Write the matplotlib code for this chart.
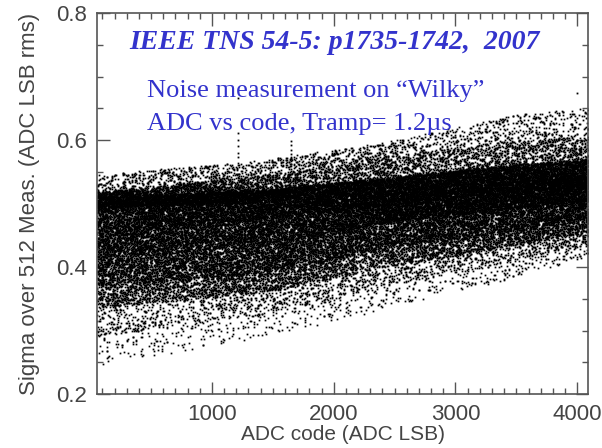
import numpy as np
import matplotlib
matplotlib.use("Agg")
import matplotlib.pyplot as plt
from matplotlib.ticker import MultipleLocator

# ---- data: noise distribution (quantiles) per ADC code ----
knot_codes = [55, 1435, 2420, 3500, 4090]
probs = [0.0, 0.01, 0.04, 0.12, 0.30, 0.50, 0.70, 0.90, 0.97, 1.0]
q000 = [0.245, 0.290, 0.333, 0.385, 0.415]
q001 = [0.290, 0.325, 0.370, 0.410, 0.435]
q004 = [0.335, 0.360, 0.400, 0.435, 0.455]
q012 = [0.370, 0.390, 0.430, 0.458, 0.475]
q030 = [0.415, 0.433, 0.470, 0.493, 0.505]
q050 = [0.455, 0.475, 0.497, 0.518, 0.527]
q070 = [0.493, 0.503, 0.518, 0.537, 0.545]
q090 = [0.510, 0.522, 0.540, 0.562, 0.570]
q097 = [0.518, 0.545, 0.572, 0.600, 0.605]
q100 = [0.545, 0.569, 0.596, 0.640, 0.650]
quantile_rows = [q000, q001, q004, q012, q030, q050, q070, q090, q097, q100]

outlier_codes = [1215, 1215, 1215, 1215, 1215, 1215,
                 1652, 1652, 1652, 1652, 1652, 1652, 1652, 4000]
outlier_vals = [0.573, 0.580, 0.590, 0.600, 0.612, 0.666,
                0.555, 0.562, 0.570, 0.578, 0.585, 0.592, 0.598, 0.675]

x_ticks = [1000, 2000, 3000, 4000]
y_ticks = [0.2, 0.4, 0.6, 0.8]


def spread_positions(n):
    """Deterministic, well-mixed positions in [0,1) (splitmix64 integer hash)."""
    z = n.astype(np.uint64) + np.uint64(0x9E3779B97F4A7C15)
    z = (z ^ (z >> np.uint64(30))) * np.uint64(0xBF58476D1CE4E5B9)
    z = (z ^ (z >> np.uint64(27))) * np.uint64(0x94D049BB133111EB)
    z = z ^ (z >> np.uint64(31))
    return (z >> np.uint64(11)).astype(np.float64) / float(1 << 53)


# ---- build the measurement cloud from the read quantiles ----
codes = np.arange(55, 4091)
n_per_code = 12
qmat = np.array([np.interp(codes, knot_codes, row) for row in quantile_rows])
p = np.asarray(probs)

cc = np.repeat(codes, n_per_code)
col = np.repeat(np.arange(codes.size), n_per_code)
u = spread_positions(np.arange(cc.size))
seg = np.clip(np.searchsorted(p, u, side="right") - 1, 0, len(p) - 2)
t = (u - p[seg]) / (p[seg + 1] - p[seg])
lo = qmat[seg, col]
hi = qmat[seg + 1, col]
yy = lo + t * (hi - lo)

fig = plt.figure(figsize=(6.02, 4.48), dpi=100)
ax = fig.add_axes([0.161, 0.1205, 0.816, 0.850])

ax.plot(cc, yy, linestyle="none", marker="s", markersize=1.25,
        markeredgewidth=0, color="black")
ax.plot(outlier_codes, outlier_vals, linestyle="none", marker="s", markersize=1.3,
        markeredgewidth=0, color="black")

ax.set_xlim(55, 4090)
ax.set_ylim(0.2, 0.8)
ax.set_xticks(x_ticks)
ax.set_yticks(y_ticks)
ax.set_yticklabels([f"{v:.1f}" for v in y_ticks])
ax.xaxis.set_minor_locator(MultipleLocator(100))
ax.yaxis.set_minor_locator(MultipleLocator(0.05))
ax.tick_params(which="both", direction="in", top=True, right=True,
               colors="#555555", labelcolor="#444444", labelsize=16, width=1)
ax.tick_params(which="major", length=9, pad=7)
ax.tick_params(which="minor", length=4.5)
for lab in ax.get_xticklabels() + ax.get_yticklabels():
    lab.set_family("Liberation Sans")
for s in ax.spines.values():
    s.set_color("#555555")
    s.set_linewidth(1.2)

ax.set_xlabel("ADC code (ADC LSB)", family="Liberation Sans", fontsize=15,
              color="#444444", labelpad=0)
ax.set_ylabel("Sigma over 512 Meas. (ADC LSB rms)", family="Liberation Sans",
              fontsize=16, color="#444444", labelpad=12)

blue = "#3333cc"
ax.text(0.065, 0.922, "IEEE TNS 54-5: p1735-1742,  2007", transform=ax.transAxes,
        family="Liberation Serif", fontsize=20, fontweight="bold", style="italic",
        color=blue, va="center", ha="left")
ax.text(0.102, 0.795, "Noise measurement on \u201cWilky\u201d", transform=ax.transAxes,
        family="Liberation Serif", fontsize=19, color=blue, va="center", ha="left")
ax.text(0.102, 0.71, "ADC vs code, Tramp= 1.2\u00b5s", transform=ax.transAxes,
        family="Liberation Serif", fontsize=19, color=blue, va="center", ha="left")

fig.savefig("out.png", dpi=100)
